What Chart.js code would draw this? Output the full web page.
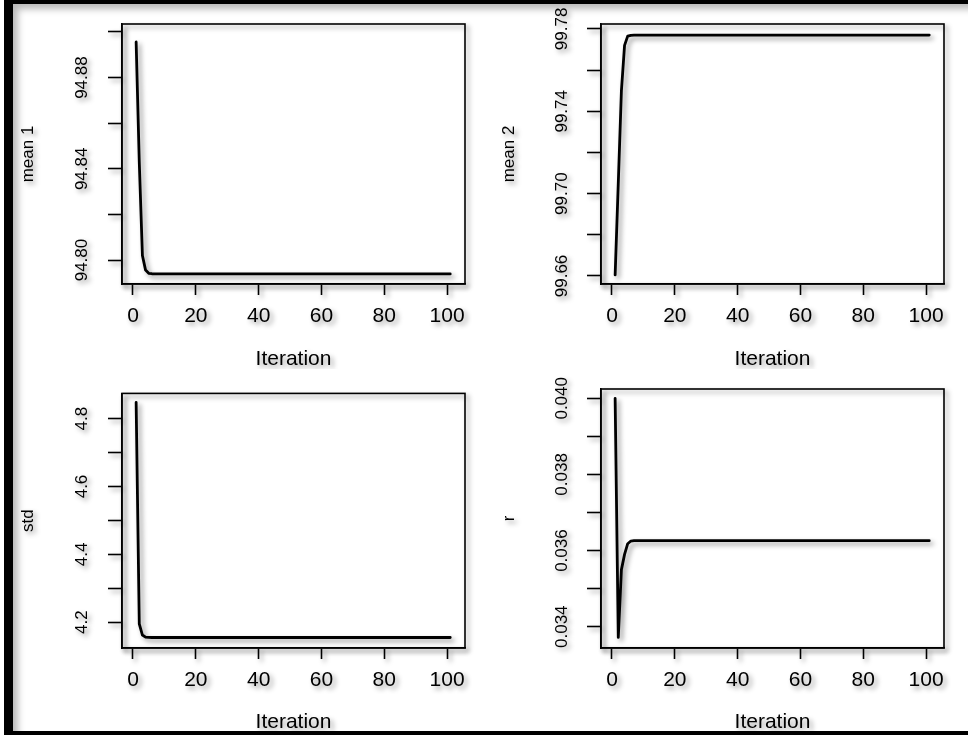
<!DOCTYPE html>
<html>
<head>
<meta charset="utf-8">
<title>Iteration traces</title>
<script src="https://cdn.jsdelivr.net/npm/chart.js@4/dist/chart.umd.min.js"></script>
<style>
    html, body { margin: 0; padding: 0; background: #fff; overflow: hidden; }
    body { width: 968px; height: 738px; position: relative; }
    .panel { position: absolute; width: 484px; height: 369px; }
    .panel canvas { display: block; }
    #frame {
        position: absolute; left: 4px; top: -5px; width: 980px; height: 727px;
        border-left: 9px solid #000; border-top: 9px solid #000; border-bottom: 4px solid #000;
        box-shadow: inset 7px 7px 7px -2px rgba(0, 0, 0, 0.28);
        pointer-events: none;
    }
</style>
</head>
<body>
<div class="panel" style="left:0;top:0"><canvas id="mean1Chart" width="484" height="369"></canvas></div>
<div class="panel" style="left:484px;top:0"><canvas id="mean2Chart" width="484" height="369"></canvas></div>
<div class="panel" style="left:0;top:369px"><canvas id="stdChart" width="484" height="369"></canvas></div>
<div class="panel" style="left:484px;top:369px"><canvas id="rChart" width="484" height="369"></canvas></div>
<div id="frame"></div>

<script>
// ====================== DATA ======================

const iterations = [1, 2, 3, 4, 5, 6, 7, 101];

const mean1Values = [94.8956, 94.843, 94.802, 94.7956, 94.7942, 94.7940, 94.7939, 94.7939];
const mean2Values = [99.6605, 99.705, 99.750, 99.772, 99.7765, 99.7769, 99.777, 99.777];
const stdValues = [4.848, 4.195, 4.162, 4.156, 4.155, 4.1548, 4.1548, 4.1548];
const rValues = [0.0400, 0.03372, 0.0355, 0.0359, 0.03618, 0.03625, 0.03626, 0.03626];

const xTicks = [0, 20, 40, 60, 80, 100];

const mean1Ticks = [94.80, 94.82, 94.84, 94.86, 94.88, 94.90];
const mean1Labels = ["94.80", "", "94.84", "", "94.88", ""];

const mean2Ticks = [99.66, 99.68, 99.70, 99.72, 99.74, 99.76, 99.78];
const mean2Labels = ["99.66", "", "99.70", "", "99.74", "", "99.78"];

const stdTicks = [4.2, 4.3, 4.4, 4.5, 4.6, 4.7, 4.8];
const stdLabels = ["4.2", "", "4.4", "", "4.6", "", "4.8"];

const rTicks = [0.034, 0.035, 0.036, 0.037, 0.038, 0.039, 0.040];
const rLabels = ["0.034", "", "0.036", "", "0.038", "", "0.040"];

// ====================== STYLE ======================

const FONT = "'Liberation Sans', Arial, sans-serif";
const TEXT = "#000";
const W = 484;
const H = 369;

// soft grey drop shadow like the original screenshot
const shadowPlugin = {
    id: "dropShadow",
    beforeDraw(chart) {
        const c = chart.ctx;
        c.shadowColor = "rgba(0,0,0,0.42)";
        c.shadowBlur = 5;
        c.shadowOffsetX = 3;
        c.shadowOffsetY = 3;
    },
    afterDraw(chart) {
        const c = chart.ctx;
        c.shadowColor = "rgba(0,0,0,0)";
        c.shadowBlur = 0;
        c.shadowOffsetX = 0;
        c.shadowOffsetY = 0;
    }
};

// R style box around the plot region
const boxPlugin = {
    id: "plotBox",
    beforeDatasetsDraw(chart) {
        const a = chart.chartArea;
        const c = chart.ctx;
        c.save();
        c.lineWidth = 1.6;
        c.strokeStyle = "#000";
        c.strokeRect(a.left, a.top, a.right - a.left, a.bottom - a.top);
        c.restore();
    }
};

// ====================== CHARTS ======================

function makePanel(id, p) {
    const ctx = document.getElementById(id);

    return new Chart(ctx, {
        type: "line",
        data: {
            datasets: [{
                data: iterations.map((it, i) => ({ x: it, y: p.values[i] })),
                borderColor: "#000",
                borderWidth: 2.8,
                pointRadius: 0,
                tension: 0,
                borderJoinStyle: "round",
                borderCapStyle: "round"
            }]
        },
        options: {
            responsive: false,
            animation: false,
            devicePixelRatio: 1,
            layout: {
                padding: { left: 0, top: p.area.top, right: W - p.area.right, bottom: 0 }
            },
            plugins: {
                legend: { display: false },
                tooltip: { enabled: false }
            },
            scales: {
                x: {
                    type: "linear",
                    min: -3.5,
                    max: 105.7,
                    afterBuildTicks: s => { s.ticks = xTicks.map(v => ({ value: v })); },
                    afterFit: s => { s.height = H - p.area.bottom; },
                    grid: { drawOnChartArea: false, tickLength: 11, tickWidth: 1.6, tickColor: "#000" },
                    border: { display: true, color: "#000", width: 1.6 },
                    ticks: {
                        autoSkip: false,
                        maxRotation: 0,
                        padding: 9,
                        color: TEXT,
                        font: { family: FONT, size: 21 }
                    },
                    title: {
                        display: true,
                        text: "Iteration",
                        color: TEXT,
                        font: { family: FONT, size: 21, lineHeight: 1 },
                        padding: { top: 0, bottom: p.xTitlePad }
                    }
                },
                y: {
                    type: "linear",
                    min: p.yMin,
                    max: p.yMax,
                    afterBuildTicks: s => { s.ticks = p.ticks.map(v => ({ value: v })); },
                    afterFit: s => { s.width = p.area.left; },
                    grid: { drawOnChartArea: false, tickLength: 14, tickWidth: 1.6, tickColor: "#000" },
                    border: { display: true, color: "#000", width: 1.6 },
                    ticks: {
                        autoSkip: false,
                        minRotation: 90,
                        maxRotation: 90,
                        crossAlign: "center",
                        padding: p.labelPad,
                        color: TEXT,
                        font: { family: FONT, size: 17 },
                        callback: (value, index) => p.labels[index]
                    },
                    title: {
                        display: true,
                        text: p.title,
                        color: TEXT,
                        font: { family: FONT, size: 17, lineHeight: 1 },
                        padding: { top: p.yTitlePad, bottom: 0 }
                    }
                }
            }
        },
        plugins: [shadowPlugin, boxPlugin]
    });
}

makePanel("mean1Chart", {
    title: "mean 1",
    values: mean1Values,
    ticks: mean1Ticks,
    labels: mean1Labels,
    yMin: 94.7895,
    yMax: 94.9035,
    area: { left: 122, top: 24, right: 465, bottom: 284 },
    labelPad: 4.7,
    yTitlePad: 20,
    xTitlePad: -0.5
});

makePanel("mean2Chart", {
    title: "mean 2",
    values: mean2Values,
    ticks: mean2Ticks,
    labels: mean2Labels,
    yMin: 99.6561,
    yMax: 99.7824,
    area: { left: 117, top: 24, right: 460, bottom: 284 },
    labelPad: 3.7,
    yTitlePad: 16.5,
    xTitlePad: -0.5
});

makePanel("stdChart", {
    title: "std",
    values: stdValues,
    ticks: stdTicks,
    labels: stdLabels,
    yMin: 4.1238,
    yMax: 4.8745,
    area: { left: 122, top: 20, right: 465, bottom: 279 },
    labelPad: 14.2,
    yTitlePad: 20,
    xTitlePad: 5.5
});

makePanel("rChart", {
    title: "r",
    values: rValues,
    ticks: rTicks,
    labels: rLabels,
    yMin: 0.033441,
    yMax: 0.040244,
    area: { left: 117, top: 20, right: 460, bottom: 279 },
    labelPad: 3.7,
    yTitlePad: 16.5,
    xTitlePad: 5.5
});
</script>
</body>
</html>
